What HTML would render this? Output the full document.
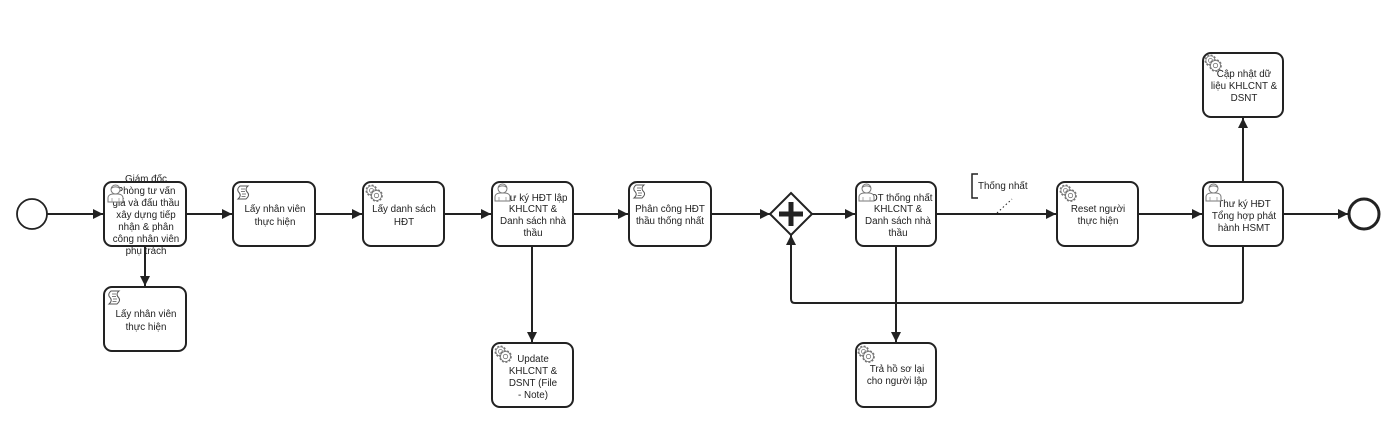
<!DOCTYPE html>
<html><head><meta charset="utf-8">
<style>
html,body{margin:0;padding:0;background:#fff;}
svg{display:block;}
text{font-family:"Liberation Sans",Arial,sans-serif;font-size:9.8px;fill:#222;}
</style></head>
<body>
<svg width="1395" height="443" viewBox="0 0 1395 443" xmlns="http://www.w3.org/2000/svg">
<defs>
<marker id="ah" viewBox="0 0 10 10" refX="10" refY="5" markerWidth="5" markerHeight="5" orient="auto" markerUnits="strokeWidth">
<path d="M0 0 L10 5 L0 10 Z" fill="#222"/>
</marker>
<g id="user">
<path d="M1 18 V14 C1 11 4 10 6 10 L11 10 C13 10 16 11 16 14 V18 Z" fill="#fff" stroke="#777" stroke-width="1"/>
<circle cx="8.5" cy="5.5" r="4.5" fill="#fff" stroke="#777" stroke-width="1"/>
<path d="M4.3 4.5 C6 2.3 11 2.3 12.7 4.5" fill="none" stroke="#777" stroke-width="1"/>
<path d="M5 18 V14 M12 18 V14" stroke="#999" stroke-width="0.8"/>
</g>
<g id="gear">
<circle cx="6.5" cy="6.5" r="4.6" fill="#fff" stroke="#777" stroke-width="2.8" stroke-dasharray="1.7 1.4"/>
<circle cx="6.5" cy="6.5" r="4.6" fill="#fff" stroke="#777" stroke-width="0.8"/>
<circle cx="6.5" cy="6.5" r="2" fill="#fff" stroke="#777" stroke-width="0.8"/>
<circle cx="11.5" cy="11.5" r="5" fill="#fff" stroke="#777" stroke-width="2.8" stroke-dasharray="1.7 1.4"/>
<circle cx="11.5" cy="11.5" r="5" fill="#fff" stroke="#777" stroke-width="0.8"/>
<circle cx="11.5" cy="11.5" r="2.2" fill="#fff" stroke="#777" stroke-width="0.8"/>
</g>
<g id="script">
<path d="M3 1 H11 C8.5 3 8.5 5.5 10.5 7.5 C12.5 9.5 11.5 12 9 14 H1 C3.5 12 4 9.5 2 7.5 C0 5.5 0.5 3 3 1 Z" fill="#fff" stroke="#555" stroke-width="1"/>
<path d="M4 4 H8 M4 6.5 H8 M5 9 H9 M4.5 11.5 H8.5" stroke="#555" stroke-width="0.8"/>
</g>
</defs>

<!-- connectors -->
<g stroke="#222" stroke-width="2" fill="none">
<path d="M47 214 H103" marker-end="url(#ah)"/>
<path d="M186 214 H232" marker-end="url(#ah)"/>
<path d="M315 214 H362" marker-end="url(#ah)"/>
<path d="M444 214 H491" marker-end="url(#ah)"/>
<path d="M573 214 H628" marker-end="url(#ah)"/>
<path d="M711 214 H770" marker-end="url(#ah)"/>
<path d="M811 214 H855" marker-end="url(#ah)"/>
<path d="M936 214 H1056" marker-end="url(#ah)"/>
<path d="M1138 214 H1202" marker-end="url(#ah)"/>
<path d="M1283 214 H1348" marker-end="url(#ah)"/>
<path d="M145 246 V286" marker-end="url(#ah)"/>
<path d="M532 246 V342" marker-end="url(#ah)"/>
<path d="M896 246 V342" marker-end="url(#ah)"/>
<path d="M1243 182 V118" marker-end="url(#ah)"/>
<path d="M1243 246 V299 Q1243 303 1239 303 H795 Q791 303 791 299 V235" marker-end="url(#ah)"/>
</g>

<!-- label Thống nhất -->
<path d="M978 174 H972 V198 H978" fill="none" stroke="#222" stroke-width="1.5"/>
<path d="M997 213 L1012 199" stroke="#222" stroke-width="1" stroke-dasharray="1.5 2.5"/>
<text x="978" y="189">Thống nhất</text>

<!-- start / end -->
<circle cx="32" cy="214" r="15" fill="#fff" stroke="#222" stroke-width="1.8"/>
<circle cx="1364" cy="214" r="15" fill="#fff" stroke="#222" stroke-width="3"/>

<!-- gateway -->
<path d="M791 193 L812 214 L791 235 L770 214 Z" fill="#fff" stroke="#222" stroke-width="2"/>
<path d="M779 214 H803 M791 202 V226" stroke="#222" stroke-width="5"/>

<!-- tasks -->
<g fill="#fff" stroke="#222" stroke-width="2">
<rect x="104" y="182" width="82" height="64" rx="8"/>
<rect x="233" y="182" width="82" height="64" rx="8"/>
<rect x="363" y="182" width="81" height="64" rx="8"/>
<rect x="492" y="182" width="81" height="64" rx="8"/>
<rect x="629" y="182" width="82" height="64" rx="8"/>
<rect x="856" y="182" width="80" height="64" rx="8"/>
<rect x="1057" y="182" width="81" height="64" rx="8"/>
<rect x="1203" y="182" width="80" height="64" rx="8"/>
<rect x="1203" y="53" width="80" height="64" rx="8"/>
<rect x="104" y="287" width="82" height="64" rx="8"/>
<rect x="492" y="343" width="81" height="64" rx="8"/>
<rect x="856" y="343" width="80" height="64" rx="8"/>
</g>

<!-- texts -->
<g text-anchor="middle">
<text x="146" y="182">Giám đốc</text>
<text x="146" y="194">Phòng tư vấn</text>
<text x="146" y="206">giá và đấu thầu</text>
<text x="146" y="218">xây dựng tiếp</text>
<text x="146" y="230">nhận &amp; phân</text>
<text x="146" y="242">công nhân viên</text>
<text x="146" y="254">phụ trách</text>

<text x="275" y="212">Lấy nhân viên</text>
<text x="275" y="225">thực hiện</text>

<text x="404" y="212">Lấy danh sách</text>
<text x="404" y="225">HĐT</text>

<text x="533" y="201">Thư ký HĐT lập</text>
<text x="533" y="212">KHLCNT &amp;</text>
<text x="533" y="224">Danh sách nhà</text>
<text x="533" y="236">thầu</text>

<text x="670" y="212">Phân công HĐT</text>
<text x="670" y="224">thầu thống nhất</text>

<text x="898" y="201">HĐT thống nhất</text>
<text x="898" y="212">KHLCNT &amp;</text>
<text x="898" y="224">Danh sách nhà</text>
<text x="898" y="236">thầu</text>

<text x="1098" y="212">Reset người</text>
<text x="1098" y="224">thực hiện</text>

<text x="1244" y="207">Thư ký HĐT</text>
<text x="1244" y="219">Tổng hợp phát</text>
<text x="1244" y="231">hành HSMT</text>

<text x="1244" y="77">Cập nhật dữ</text>
<text x="1244" y="89">liệu KHLCNT &amp;</text>
<text x="1244" y="101">DSNT</text>

<text x="146" y="317">Lấy nhân viên</text>
<text x="146" y="330">thực hiện</text>

<text x="533" y="362">Update</text>
<text x="533" y="374">KHLCNT &amp;</text>
<text x="533" y="386">DSNT (File</text>
<text x="533" y="398">- Note)</text>

<text x="897" y="372">Trả hồ sơ lại</text>
<text x="897" y="384">cho người lập</text>
</g>

<!-- icons -->
<use href="#user" x="107" y="184"/>
<use href="#script" x="237" y="185"/>
<use href="#gear" x="365" y="184"/>
<use href="#user" x="494" y="183"/>
<use href="#script" x="633" y="184"/>
<use href="#user" x="858" y="183"/>
<use href="#gear" x="1059" y="184"/>
<use href="#user" x="1205" y="183"/>
<use href="#gear" x="1204" y="54"/>
<use href="#script" x="108" y="290"/>
<use href="#gear" x="494" y="345"/>
<use href="#gear" x="857" y="345"/>
</svg>
</body></html>
